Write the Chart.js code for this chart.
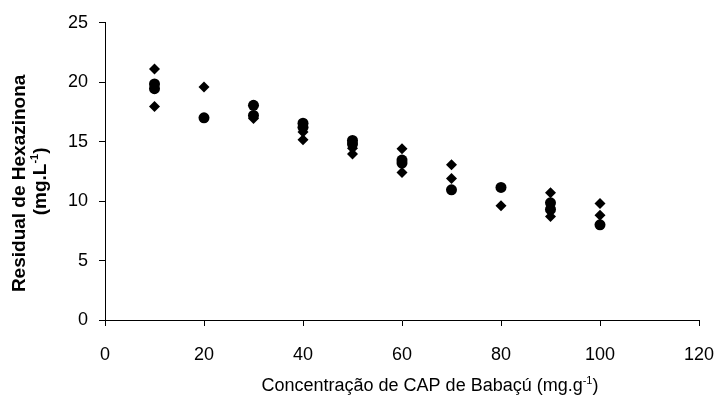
<!DOCTYPE html>
<html>
<head>
<meta charset="utf-8">
<script src="https://cdn.jsdelivr.net/npm/chart.js@4.4.1/dist/chart.umd.min.js"></script>
<style>
  html, body { margin: 0; padding: 0; background: #fff; }
  #wrap { width: 716px; height: 402px; }
</style>
</head>
<body>
<div id="wrap"><canvas id="c" width="716" height="402"></canvas></div>
<script>
// Circles series
const circleX = [10, 10, 20, 30, 30, 40, 40, 50, 50, 60, 60, 70, 80, 90, 90, 100];
const circleY = [19.85, 19.45, 17.0, 18.05, 17.2, 16.55, 16.2, 15.1, 14.8, 13.45, 13.2, 10.95, 11.15, 9.85, 9.3, 8.0];
// Diamonds series
const diamondX = [10, 10, 20, 30, 40, 40, 50, 50, 60, 60, 70, 70, 80, 90, 90, 100, 100];
const diamondY = [21.1, 17.95, 19.6, 16.95, 15.8, 15.15, 14.45, 13.95, 14.4, 12.4, 13.05, 11.9, 9.6, 10.7, 8.7, 9.8, 8.8];

const xTicks = [0, 20, 40, 60, 80, 100, 120];
const yTicks = [0, 5, 10, 15, 20, 25];

const yTitle1 = 'Residual de Hexazinona';
const yTitle2 = ['(mg.L', '-1', ')'];
const xTitle = ['Concentração de CAP de Babaçú (mg.g', '-1', ')'];

const FONT = '"Liberation Sans", Arial, sans-serif';

function toPts(xs, ys) { return xs.map((x, i) => ({ x: x, y: ys[i] })); }

function drawSupText(ctx, parts, size, weight) {
  // parts: [base, sup, tail]; draws centred at 0,0 with textBaseline middle
  const base = weight + ' ' + size + 'px ' + FONT;
  const small = weight + ' ' + Math.round(size * 0.6) + 'px ' + FONT;
  ctx.font = base; const w0 = ctx.measureText(parts[0]).width; const w2 = ctx.measureText(parts[2]).width;
  ctx.font = small; const w1 = ctx.measureText(parts[1]).width;
  let x = -(w0 + w1 + w2) / 2;
  ctx.textAlign = 'left'; ctx.textBaseline = 'middle';
  ctx.font = base; ctx.fillText(parts[0], x, 0); x += w0;
  ctx.font = small; ctx.fillText(parts[1], x, -size * 0.3); x += w1;
  ctx.font = base; ctx.fillText(parts[2], x, 0);
}

const titlePlugin = {
  id: 'axisTitles',
  afterDraw(chart) {
    const ctx = chart.ctx; const a = chart.chartArea;
    ctx.save();
    ctx.fillStyle = '#000';
    const cy = (a.top + a.bottom) / 2 + 12;
    // y title line 1
    ctx.save();
    ctx.translate(20, cy);
    ctx.rotate(-Math.PI / 2);
    ctx.font = 'bold 19px ' + FONT; ctx.textAlign = 'center'; ctx.textBaseline = 'middle';
    ctx.fillText(yTitle1, 0, 0);
    ctx.restore();
    // y title line 2
    ctx.save();
    ctx.translate(41, cy - 2);
    ctx.rotate(-Math.PI / 2);
    drawSupText(ctx, yTitle2, 19, 'bold');
    ctx.restore();
    // x title
    ctx.save();
    ctx.translate((a.left + a.right) / 2 + 28, 386.5);
    drawSupText(ctx, xTitle, 18, 'normal');
    ctx.restore();
    ctx.restore();
  }
};

new Chart(document.getElementById('c'), {
  type: 'scatter',
  data: {
    datasets: [
      { label: 'circles', data: toPts(circleX, circleY), pointStyle: 'circle', pointRadius: 5.5,
        backgroundColor: '#000', borderColor: '#000', borderWidth: 0, pointHoverRadius: 5.5 },
      { label: 'diamonds', data: toPts(diamondX, diamondY), pointStyle: 'rectRot', pointRadius: 5.5,
        backgroundColor: '#000', borderColor: '#000', borderWidth: 0, pointHoverRadius: 5.5 }
    ]
  },
  options: {
    responsive: false,
    animation: false,
    devicePixelRatio: 1,
    layout: { padding: { top: 22.7, right: 17, bottom: 0, left: 0 } },
    plugins: { legend: { display: false }, tooltip: { enabled: false } },
    scales: {
      x: {
        type: 'linear', min: 0, max: 120,
        afterBuildTicks: s => { s.ticks = xTicks.map(v => ({ value: v })); },
        afterFit: s => { s.height = 82; s.paddingLeft = 0; s.paddingRight = 0; },
        ticks: { color: '#000', font: { family: FONT, size: 18 }, padding: 18, maxRotation: 0 },
        grid: { drawOnChartArea: false, drawTicks: true, tickLength: 6, color: '#000' },
        border: { display: true, color: '#000', width: 1 }
      },
      y: {
        type: 'linear', min: 0, max: 25,
        afterBuildTicks: s => { s.ticks = yTicks.map(v => ({ value: v })); },
        afterFit: s => { s.width = 105; s.paddingTop = 0; s.paddingBottom = 0; },
        ticks: { color: '#000', font: { family: FONT, size: 18 }, padding: 11 },
        grid: { drawOnChartArea: false, drawTicks: true, tickLength: 6, color: '#000' },
        border: { display: true, color: '#000', width: 1 }
      }
    }
  },
  plugins: [titlePlugin]
});
</script>
</body>
</html>
